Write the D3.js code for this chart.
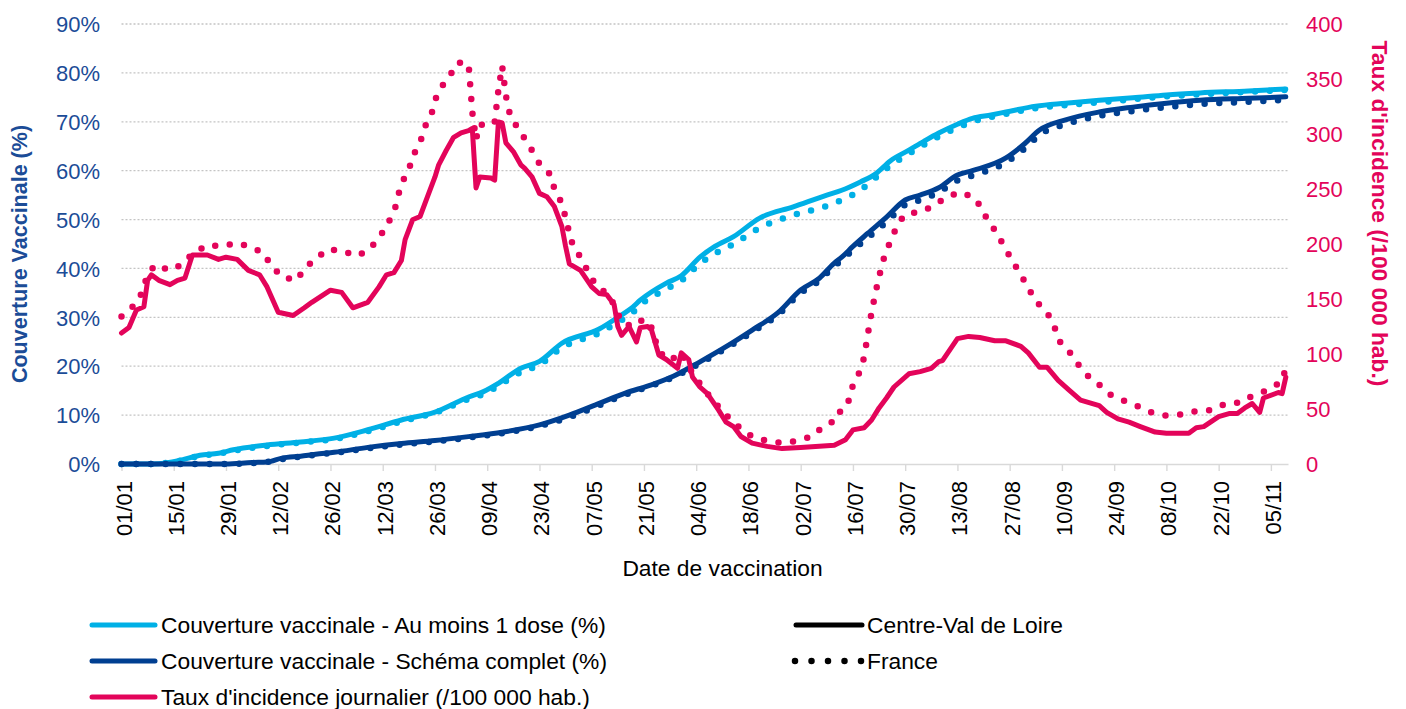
<!DOCTYPE html>
<html>
<head>
<meta charset="utf-8">
<script src="https://cdn.jsdelivr.net/npm/d3@7"></script>
<style>
  html, body { margin: 0; padding: 0; background: #fff; }
  svg { display: block; font-family: "Liberation Sans", Arial, sans-serif; }
</style>
</head>
<body>
<svg id="chart" width="1406" height="709"></svg>
<script>
// ---- Data (x = days since 01/01/2021) ----
const tickLabels = ["01/01","15/01","29/01","12/02","26/02","12/03","26/03","09/04","23/04","07/05","21/05","04/06","18/06","02/07","16/07","30/07","13/08","27/08","10/09","24/09","08/10","22/10","05/11"];
const yLeftTicks = [0, 0.1, 0.2, 0.3, 0.4, 0.5, 0.6, 0.7, 0.8, 0.9];
const yRightTicks = [0, 50, 100, 150, 200, 250, 300, 350, 400];

// Centre-Val de Loire – couverture au moins 1 dose (%)
const dose1CVL = [[0,0],[8,0],[12,0.2],[16,0.8],[21,1.8],[26,2.2],[30,2.9],[39,3.9],[48,4.5],[57,5.3],[66,7],[75,9],[84,10.6],[93,13.7],[97,14.8],[101,16.5],[107,19.6],[112,21],[118,24.7],[128,27.6],[133,30],[137,32.1],[139,33.5],[146,37],[150,38.5],[155,42.3],[159,44.5],[164,46.5],[171,50.3],[180,52.6],[189,55],[193,56],[198,57.7],[202,59.3],[206,62],[211,64.2],[215,66],[219,67.7],[224,69.5],[228,70.7],[233,71.4],[237,72],[245,73.2],[253,73.8],[262,74.4],[271,74.9],[280,75.5],[289,75.9],[302,76.3],[312,76.7]];
// France – couverture au moins 1 dose (%)
const dose1FR = [[0,0],[8,0],[12,0.2],[16,0.7],[21,1.7],[26,2.1],[30,2.7],[39,3.7],[48,4.4],[57,5.1],[66,6.7],[75,8.7],[84,10.5],[93,13.3],[97,14.3],[101,16],[107,18.8],[112,20.3],[118,23.8],[128,26.8],[133,29],[137,31],[139,32.5],[146,35.8],[150,37.5],[155,41],[159,43],[164,45],[171,48.3],[180,50.9],[189,52.8],[193,54],[198,56],[202,58.5],[206,61],[211,63.5],[215,65.3],[219,67],[224,68.8],[228,70],[233,71],[237,71.6],[245,72.8],[253,73.4],[262,74],[271,74.6],[280,75.2],[289,75.6],[302,76.1],[312,76.5]];
// Centre-Val de Loire – schéma complet (%)
const completeCVL = [[0,0],[28,0],[35,0.3],[39,0.4],[43,1.2],[48,1.6],[52,2],[57,2.4],[66,3.4],[75,4.2],[84,4.8],[93,5.6],[102,6.5],[112,8],[120,10],[128,12.4],[135,14.5],[142,16.2],[148,18],[155,20.9],[162,24],[169,27.4],[176,31],[182,35.6],[187,38],[191,41.1],[193,42.3],[196,44.5],[200,47.2],[205,50.5],[210,54],[214,55],[219,56.5],[224,59.1],[228,60],[237,62.6],[242,65.5],[246,68.3],[253,70.4],[262,72],[271,73],[280,73.8],[289,74.4],[302,74.8],[312,75.1]];
// France – schéma complet (%)
const completeFR = [[0,0],[28,0],[35,0.2],[39,0.4],[43,1],[48,1.5],[52,1.9],[57,2.3],[66,3.2],[75,4],[84,4.6],[93,5.4],[102,6.3],[112,7.8],[120,9.6],[128,12],[135,14.2],[142,16],[148,17.8],[155,20.6],[162,23.7],[169,27],[176,30.6],[182,35],[187,37.5],[191,40.5],[193,41.7],[196,43.8],[200,46.3],[205,49.5],[210,53],[214,54],[219,55.6],[224,58],[228,59],[237,61.7],[242,64.5],[246,67.3],[253,69.5],[262,71.2],[271,72.2],[280,73],[289,73.6],[302,74.1],[312,74.5]];
// Centre-Val de Loire – taux d'incidence (/100 000 hab.)
const incidenceCVL = [[0,119],[2,124],[4,140],[6,143],[7,167],[8,172],[10,167],[13,163],[15,167],[17,169],[19,190],[23,190],[26,186],[28,188],[31,186],[34,176],[37,172],[39,161],[42,138],[46,135],[49,142],[51,147],[56,158],[59,156],[62,142],[66,147],[69,161],[71,172],[73,174],[75,185],[76,204],[78,222],[80,225],[82,243],[84,261],[85,272],[87,285],[89,297],[91,301],[93,303],[94,305],[95,251],[96,261],[99,260],[100,258],[101,311],[102,310],[103,292],[105,284],[107,272],[108,269],[110,261],[112,246],[114,243],[116,234],[118,216],[119,198],[120,182],[123,176],[126,161],[128,155],[130,154],[132,145],[133,125],[134,117],[136,125],[138,111],[139,124],[141,125],[142,122],[144,99],[146,95],[149,87],[150,101],[152,95],[153,79],[155,70],[157,64],[160,49],[162,38],[164,34],[166,25],[169,19],[173,16],[177,14],[182,15],[186,16],[191,17],[194,22],[196,31],[199,33],[201,40],[203,51],[205,60],[207,70],[211,82],[214,84],[217,87],[219,93],[220,94],[224,114],[227,116],[230,115],[234,112],[237,112],[241,107],[243,101],[246,88],[248,88],[251,76],[254,67],[257,58],[262,53],[264,47],[267,41],[270,38],[273,34],[277,29],[280,28],[286,28],[288,33],[290,34],[294,43],[297,46],[299,46],[301,51],[303,55],[305,47],[306,60],[310,65],[311,64],[312,79]];
// France – taux d'incidence (/100 000 hab.)
const incidenceFR = [[0,134],[3,143],[5,152],[7,172],[9,181],[13,176],[16,181],[19,191],[23,199],[27,198],[31,201],[34,198],[38,192],[40,181],[43,170],[47,167],[49,178],[52,186],[55,195],[59,194],[63,189],[66,194],[69,205],[71,217],[73,228],[74,242],[75,255],[77,267],[78,280],[80,291],[81,305],[83,317],[84,331],[86,344],[88,353],[90,365],[93,364],[94,320],[95,295],[96,309],[98,307],[100,311],[101,340],[102,362],[103,335],[104,319],[106,306],[108,296],[110,285],[112,273],[115,263],[116,250],[118,237],[119,224],[120,210],[121,198],[123,188],[125,175],[127,163],[130,155],[132,145],[134,129],[137,125],[140,132],[142,124],[144,102],[147,94],[150,101],[152,88],[156,68],[160,52],[163,41],[166,32],[169,25],[173,21],[177,19],[181,21],[185,25],[188,34],[192,41],[193,53],[195,58],[196,72],[198,85],[199,97],[200,118],[201,138],[202,155],[203,170],[204,184],[205,194],[207,210],[208,218],[210,227],[215,230],[218,236],[222,244],[225,247],[229,241],[231,228],[233,218],[235,207],[237,195],[239,183],[241,172],[243,160],[245,148],[248,138],[250,125],[251,113],[254,102],[256,92],[259,80],[262,72],[265,63],[269,57],[272,53],[276,47],[280,44],[284,45],[288,48],[292,49],[296,55],[300,56],[303,62],[307,67],[311,75],[312,88]];

// ---- Styling ----
const C_LIGHT = "#00b0e6";
const C_DARK = "#003f91";
const C_PINK = "#e3045a";
const C_LEFT_TXT = "#1b4c97";
const FONT = 22;
const FONT_BIG = 22.8;

const svg = d3.select("#chart");
const start = new Date(2021, 0, 1);
const dayToDate = d => d3.timeDay.offset(start, Math.floor(d));
const parseTick = d3.timeParse("%d/%m/%Y");

const plot = { left: 121.5, right: 1288, top: 24, bottom: 464 };
const x = d3.scaleTime()
  .domain([start, d3.timeHour.offset(start, Math.round(312.6 * 24))])
  .range([plot.left, plot.right]);
const yL = d3.scaleLinear().domain([0, 0.9]).range([plot.bottom, plot.top]);
const yR = d3.scaleLinear().domain([0, 400]).range([plot.bottom, plot.top]);

// Gridlines
svg.append("g").selectAll("line").data(yLeftTicks.slice(1)).join("line")
  .attr("x1", plot.left).attr("x2", plot.right)
  .attr("y1", d => yL(d)).attr("y2", d => yL(d))
  .attr("stroke", "#c4c4c4").attr("stroke-width", 1.3).attr("stroke-dasharray", "2,2");

// X axis
const tickDates = tickLabels.map(s => parseTick(s + "/2021"));
const xAxis = d3.axisBottom(x).tickValues(tickDates).tickFormat(d3.timeFormat("%d/%m")).tickSize(7).tickSizeOuter(0);
const gx = svg.append("g").attr("transform", `translate(0,${plot.bottom})`).call(xAxis);
gx.select(".domain").attr("stroke", "#d9d9d9").attr("stroke-width", 1.6);
gx.selectAll(".tick line").attr("stroke", "#d9d9d9").attr("stroke-width", 1.4);
gx.selectAll(".tick text")
  .attr("font-size", FONT).attr("fill", "#000")
  .attr("text-anchor", "end")
  .attr("transform", "translate(9.5,0) rotate(-90)")
  .attr("x", -17).attr("y", 0).attr("dy", "0");

// Left Y axis
const gl = svg.append("g").attr("transform", `translate(100,0)`)
  .call(d3.axisLeft(yL).tickValues(yLeftTicks).tickFormat(d3.format(".0%")).tickSize(0).tickPadding(0));
gl.select(".domain").remove();
gl.selectAll(".tick text").attr("font-size", FONT).attr("fill", C_LEFT_TXT).attr("dy", "0.35em");

// Right Y axis
const gr = svg.append("g").attr("transform", `translate(1306,0)`)
  .call(d3.axisRight(yR).tickValues(yRightTicks).tickFormat(d3.format("d")).tickSize(0).tickPadding(0));
gr.select(".domain").remove();
gr.selectAll(".tick text").attr("font-size", FONT).attr("fill", C_PINK).attr("dy", "0.35em");

// Axis titles
svg.append("text").attr("transform", "translate(27,254) rotate(-90)")
  .attr("text-anchor", "middle").attr("font-size", 21.5).attr("font-weight", "bold")
  .attr("fill", C_LEFT_TXT).text("Couverture Vaccinale (%)");
svg.append("text").attr("transform", "translate(1372,213.5) rotate(90)")
  .attr("text-anchor", "middle").attr("font-size", FONT_BIG).attr("font-weight", "bold")
  .attr("fill", C_PINK).text("Taux d'incidence (/100 000 hab.)");
svg.append("text").attr("x", 722.5).attr("y", 576)
  .attr("text-anchor", "middle").attr("font-size", FONT_BIG).attr("fill", "#000")
  .text("Date de vaccination");

// Lines
const linePct = d3.line().x(d => x(dayToDate(d[0]))).y(d => yL(d[1] / 100)).curve(d3.curveMonotoneX);
const lineInc = d3.line().x(d => x(dayToDate(d[0]))).y(d => yR(d[1])).curve(d3.curveLinear);

const DOT = "0,14.7";
function drawSolid(data, gen, color) {
  svg.append("path").datum(data).attr("d", gen)
    .attr("fill", "none").attr("stroke", color).attr("stroke-width", 5)
    .attr("stroke-linejoin", "round").attr("stroke-linecap", "round");
}
function drawDotted(data, gen, color) {
  svg.append("path").datum(data).attr("d", gen)
    .attr("fill", "none").attr("stroke", color).attr("stroke-width", 6.5)
    .attr("stroke-linecap", "round").attr("stroke-dasharray", DOT);
}
drawDotted(dose1FR, linePct, C_LIGHT);
drawSolid(dose1CVL, linePct, C_LIGHT);
drawDotted(completeFR, linePct, C_DARK);
drawSolid(completeCVL, linePct, C_DARK);
drawDotted(incidenceFR, lineInc, C_PINK);
drawSolid(incidenceCVL, lineInc, C_PINK);

// Legend
const legendLeft = [
  { label: "Couverture vaccinale - Au moins 1 dose (%)", color: C_LIGHT, y: 625 },
  { label: "Couverture vaccinale - Schéma complet (%)", color: C_DARK, y: 661 },
  { label: "Taux d'incidence journalier (/100 000 hab.)", color: C_PINK, y: 697 }
];
const lg = svg.append("g");
legendLeft.forEach(it => {
  lg.append("line").attr("x1", 92).attr("x2", 155).attr("y1", it.y).attr("y2", it.y)
    .attr("stroke", it.color).attr("stroke-width", 5).attr("stroke-linecap", "round");
  lg.append("text").attr("x", 161).attr("y", it.y).attr("dy", "0.35em")
    .attr("font-size", FONT_BIG).attr("fill", "#000").text(it.label);
});
lg.append("line").attr("x1", 796).attr("x2", 862).attr("y1", 625).attr("y2", 625)
  .attr("stroke", "#000").attr("stroke-width", 5).attr("stroke-linecap", "round");
lg.append("text").attr("x", 867).attr("y", 625).attr("dy", "0.35em")
  .attr("font-size", FONT_BIG).attr("fill", "#000").text("Centre-Val de Loire");
lg.append("line").attr("x1", 795).attr("x2", 863).attr("y1", 661).attr("y2", 661)
  .attr("stroke", "#000").attr("stroke-width", 6.5).attr("stroke-linecap", "round")
  .attr("stroke-dasharray", "0,16.5");
lg.append("text").attr("x", 867).attr("y", 661).attr("dy", "0.35em")
  .attr("font-size", FONT_BIG).attr("fill", "#000").text("France");
</script>
</body>
</html>
